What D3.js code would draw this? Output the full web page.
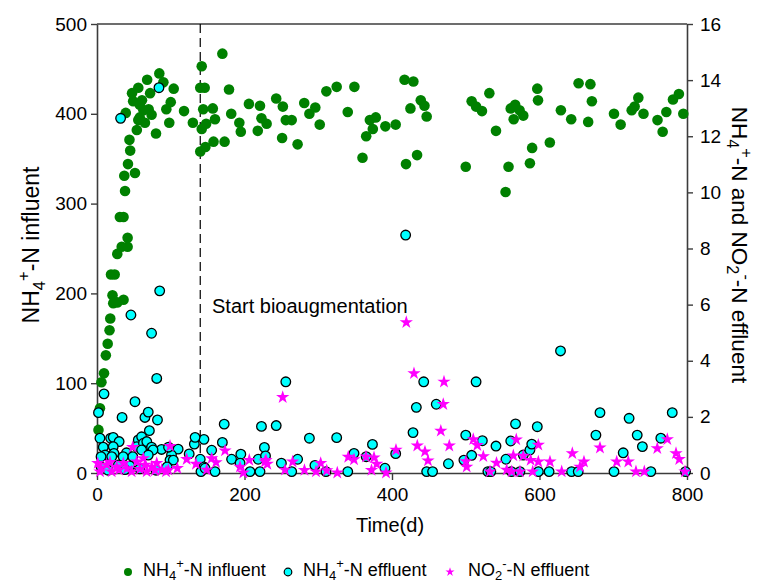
<!DOCTYPE html>
<html><head><meta charset="utf-8">
<script src="https://cdn.jsdelivr.net/npm/d3@7"></script>
<style>
body{margin:0;background:#fff}
text{font-family:Arial,"Liberation Sans",sans-serif;fill:#000}
</style>
</head><body>
<svg id="c" width="759" height="584"></svg>
<script>
// ---------- tick labels ----------
const xTicks = [0, 200, 400, 600, 800];
const leftTicks = [0, 100, 200, 300, 400, 500];
const rightTicks = [0, 2, 4, 6, 8, 10, 12, 14, 16];

// ---------- NH4+-N influent (left axis) ----------
const influentDay = [2,4,6,9.5,12,14.5,17,18,22,21,27.5,36,19,24,27.5,33.5,41.5,41.5,31,36,38,37,51.5,42,45,44,54,39,47.5,56,49,58,63,61,56,58,65,70,74,72,68,84.5,90,80,94,100,98,104,118,130,142,140,146,144,157,160,148,142,147,140,158,173,170,179,182,193,195,206,221,223,230,218,243,252,256,264,251,272,281,296,288,302,311,325,349,340,360,365,370,374,378,391,405,417,429,425,439,444,447,419,434,500,508,514,522,532,541,554,558,561,567,565,573,578,587,590,597,598,614,629,643,653,669,671,666,701,710,725,729,734,741,760,767,772,781,789,795];
const influentVal = [48,72,101,111,131,144,159,172,189,198,190,193,221,221,244,252,252,262,285,285,314,331,334,344,359,371,382,401,423,429,414,410,404,415,393,396,390,405,399,423,438,445,435,378,405,413,390,428,403,390,453,429,429,405,406,394,389,383,363,358,369,369,467,427,400,390,380,411,409,395,389,381,417,408,393,393,373,366,412,407,400,388,425,430,430,402,351,375,393,383,396,386,388,438,436,406,415,409,397,344,354,341,414,408,403,423,381,313,341,406,410,394,404,398,345,362,428,415,368,404,394,434,433,414,391,400,388,404,408,418,400,393,380,402,416,422,400];

// ---------- NH4+-N effluent (right axis) ----------
const nh4EffDay = [32,84,85,46,74,81,256,51.5,9.5,2,34,65,69.5,82,71,172.5,223,243,288,325,145,132,170,227,155.5,125,110,87.5,182.5,195,218.5,228.5,272,250,207.5,221,264,295.5,160,140,145,141,194,101,99,97,103.5,95,4,18.5,22,30,8.5,22,11,23,5.5,40,56,60.5,54,63,67.5,74,76,60.5,48.5,69.5,35.5,20,5.5,29,44.5,133,146.5,310.5,340,348.5,373.5,365,390.5,405,418.5,443,514,433,460,428.5,447,455,476.5,500,522.5,508,497.5,530,541,554.5,561,567.5,534,562,573.5,578,587,589.5,597,598.5,613,628.5,643.5,652.5,676.5,682,701,713.5,721.5,732.5,739.5,751,764.5,780,798,15,38,58,80];
const nh4EffVal = [12.64,13.73,6.49,5.63,4.98,3.37,3.25,2.54,2.82,2.15,1.98,1.98,2.17,1.89,1.51,1.74,1.66,1.69,1.24,1.26,1.2,1.03,1.09,0.91,0.81,0.68,0.85,0.84,0.49,0.67,0.49,0.61,0.49,0.35,0.05,0.05,0.05,0.27,0.05,0.49,0.22,0.05,0.35,0.64,0.46,0.92,0.46,0.22,1.24,1.24,1.27,1.12,0.92,0.94,0.64,0.7,0.58,0.72,1.18,1.29,0.94,1.06,1.12,0.92,0.82,0.82,0.58,0.64,0.58,0.58,0.22,0.29,0.25,1.27,0.17,0.05,0.05,0.7,1.02,0.58,0.17,0.69,8.48,3.25,3.25,2.34,2.45,1.44,0.05,0.05,0.33,1.35,1.15,0.63,0.46,0.05,0.96,0.49,1.14,1.75,0.05,0.05,0.05,0.64,0.82,1.03,1.65,0.05,0.05,4.35,0.05,0.05,1.35,2.15,0.05,0.72,1.95,1.35,0.94,0.05,1.24,2.15,0.05,0.1,0.12,0.15,0.1];

// ---------- NO2--N effluent (right axis) ----------
const no2EffDay = [419.4,429.8,470.5,469.5,466.2,251.8,434.3,444.7,448.8,477.7,405.4,510.2,515.6,523.8,500.3,501.3,229.1,230.9,265.3,254.9,281.3,303.3,296.9,311.5,325.8,340.7,348.5,364.7,375.6,379.3,372.2,391.9,541.7,532.9,555.5,562.3,568.5,564.5,598.4,578,588,598.4,614.2,644.5,654.9,660.3,682,704.7,720.4,759.7,773.3,785.1,789.5,573.5,590.8,630.1,730.8,742.1,797.3,99,48.4,173.6,155.5,161.4,121.6,134.2,108.9,193.9,206.5,227.8,198.4,148.7,93.6,1,5.4,13.2,26.7,35.7,40.7,53.8,62.8,65.1,74.2,81,87.7,19.9,47,4.1,67.4,96.7,17.6,29.8,58.3,78.6];
const no2EffVal = [5.37,3.55,3.25,2.45,1.5,2.7,0.97,0.76,0.44,0.97,0.82,1.2,0.99,0.59,0.41,0.22,0.46,0.32,0.4,0.11,0.1,0.35,0.05,0.09,0.01,0.57,0.48,0.58,0.55,0.32,0.1,0.01,0.36,0.05,0.11,0.05,1.19,0.62,1.0,0.61,0.46,0.4,0.4,0.7,0.22,0.4,0.9,0.4,0.4,0.88,1.2,0.7,0.49,0.05,0.05,0.05,0.05,0.05,0.05,0.96,0.92,0.8,0.52,0.38,0.49,0.32,0.17,0.22,0.46,0.4,0.01,0.11,0.05,0.35,0.18,0.29,0.22,0.35,0.16,0.4,0.52,0.29,0.22,0.35,0.11,0.05,0.05,0.05,0.05,0.11,0.39,0.11,0.14,0.09];

const bioaugDay = 140;

// ---------- chart ----------
const svg = d3.select("#c");
const L = 97, R = 687, T = 24, B = 473;
const x = d3.scaleLinear().domain([0, 800]).range([L, R]);
const yL = d3.scaleLinear().domain([0, 500]).range([B, T]);
const yR = d3.scaleLinear().domain([0, 16]).range([B, T]);
const axisColor = "#3c3c3c";

function styleAxis(g) {
  g.select(".domain").attr("stroke", axisColor).attr("stroke-width", 1.6);
  g.selectAll(".tick line").attr("stroke", axisColor).attr("stroke-width", 1.4);
  g.selectAll(".tick text").attr("font-size", 19).attr("fill", "#000")
    .attr("font-family", "Arial, 'Liberation Sans', sans-serif");
}

svg.append("g").attr("transform", `translate(0,${B})`)
  .call(d3.axisBottom(x).tickValues(xTicks).tickSize(7).tickPadding(8).tickSizeOuter(0))
  .call(styleAxis);
svg.append("g").attr("transform", `translate(${L},0)`)
  .call(d3.axisLeft(yL).tickValues(leftTicks).tickSize(6).tickPadding(4).tickSizeOuter(0))
  .call(styleAxis);
svg.append("g").attr("transform", `translate(${R},0)`)
  .call(d3.axisRight(yR).tickValues(rightTicks).tickSize(6).tickPadding(7).tickSizeOuter(0))
  .call(styleAxis);
svg.append("line").attr("x1", L).attr("x2", R).attr("y1", T).attr("y2", T)
  .attr("stroke", axisColor).attr("stroke-width", 1.6);

// dashed bioaugmentation line
svg.append("line").attr("x1", x(bioaugDay)).attr("x2", x(bioaugDay))
  .attr("y1", T).attr("y2", B).attr("stroke", "#000").attr("stroke-width", 1.2)
  .attr("stroke-dasharray", "9,5");

// rich text helper
function rich(sel, parts, size, subK) {
  let cur = 0;
  const sk = subK === undefined ? 0.27 : subK;
  parts.forEach(p => {
    let target = p.sub ? size * sk : p.sup ? -size * 0.42 : 0;
    sel.append("tspan").attr("dy", target - cur)
      .attr("font-size", (p.sub || p.sup) ? size * 0.72 : size).text(p.t);
    cur = target;
  });
}
const nh4Parts = [{t:"NH"},{t:"4",sub:true},{t:"+",sup:true}];

// points
const inf = influentDay.map((d, i) => [d, influentVal[i]]);
const nh4 = nh4EffDay.map((d, i) => [d, nh4EffVal[i]]);
const no2 = no2EffDay.map((d, i) => [d, no2EffVal[i]]);

svg.append("g").selectAll("circle").data(inf).join("circle")
  .attr("cx", d => x(d[0])).attr("cy", d => yL(d[1])).attr("r", 5.3)
  .attr("fill", "#008000");
svg.append("g").selectAll("circle").data(nh4).join("circle")
  .attr("cx", d => x(d[0])).attr("cy", d => yR(d[1])).attr("r", 4.8)
  .attr("fill", "#00ffff").attr("stroke", "#000").attr("stroke-width", 1.3);
const star = d3.symbol().type(d3.symbolStar).size(55);
svg.append("g").selectAll("path").data(no2).join("path")
  .attr("transform", d => `translate(${x(d[0])},${yR(d[1])})`)
  .attr("d", star).attr("fill", "#ff00ff");

// annotation
svg.append("text").attr("x", 212).attr("y", 313).attr("font-size", 20)
  .text("Start bioaugmentation");

// axis titles
svg.append("text").attr("x", (L + R) / 2 - 2).attr("y", 532).attr("text-anchor", "middle")
  .attr("font-size", 20).text("Time(d)");
const lt = svg.append("text").attr("transform", "translate(39,245) rotate(-90)")
  .attr("text-anchor", "middle").attr("font-size", 23);
rich(lt, nh4Parts.concat([{t:"-N influent"}]), 23);
const rt = svg.append("text").attr("transform", "translate(732,245) rotate(90)")
  .attr("text-anchor", "middle").attr("font-size", 22.5);
rich(rt, nh4Parts.concat([{t:"-N and NO"},{t:"2",sub:true},{t:"-",sup:true},{t:"-N effluent"}]), 22.5, 0.22);

// legend
const lg = svg.append("g");
lg.append("circle").attr("cx", 128).attr("cy", 572).attr("r", 4).attr("fill", "#008000");
rich(lg.append("text").attr("x", 143).attr("y", 576), nh4Parts.concat([{t:"-N influent"}]), 18, 0.2);
lg.append("circle").attr("cx", 288).attr("cy", 572).attr("r", 3.8).attr("fill", "#00ffff")
  .attr("stroke", "#000").attr("stroke-width", 1.2);
rich(lg.append("text").attr("x", 303).attr("y", 576), nh4Parts.concat([{t:"-N effluent"}]), 18, 0.2);
lg.append("path").attr("transform", "translate(450,572)")
  .attr("d", d3.symbol().type(d3.symbolStar).size(26)).attr("fill", "#ff00ff");
rich(lg.append("text").attr("x", 468).attr("y", 576),
  [{t:"NO"},{t:"2",sub:true},{t:"-",sup:true},{t:"-N effluent"}], 18, 0.2);
</script>
</body></html>
